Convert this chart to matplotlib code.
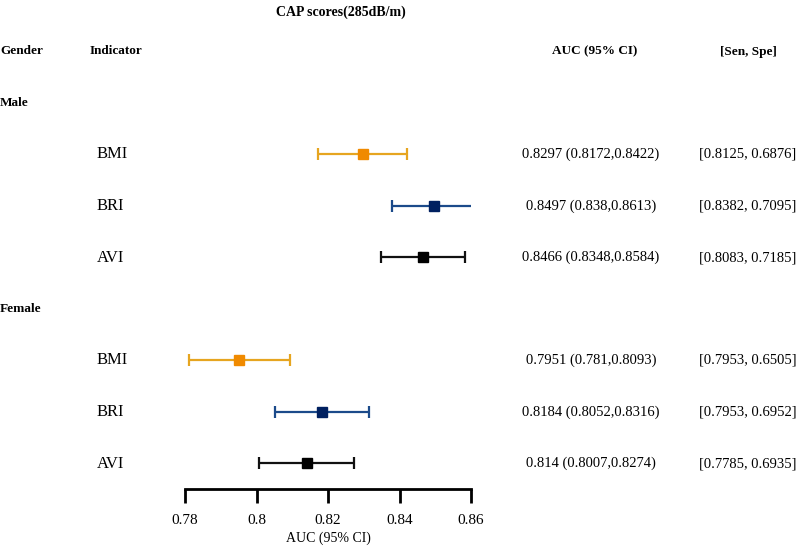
import matplotlib
matplotlib.use("Agg")
import matplotlib.pyplot as plt

plt.rcParams['font.family'] = ['Liberation Serif', 'DejaVu Serif']

title = "CAP scores(285dB/m)"
groups = ["Male", "Female"]
indicators = ["BMI", "BRI", "AVI"]
auc = [[0.8297, 0.8497, 0.8466], [0.7951, 0.8184, 0.8140]]
lo = [[0.8172, 0.8380, 0.8348], [0.7810, 0.8052, 0.8007]]
hi = [[0.8422, 0.8613, 0.8584], [0.8093, 0.8316, 0.8274]]
auc_txt = [["0.8297 (0.8172,0.8422)", "0.8497 (0.838,0.8613)", "0.8466 (0.8348,0.8584)"],
           ["0.7951 (0.781,0.8093)", "0.8184 (0.8052,0.8316)", "0.814 (0.8007,0.8274)"]]
senspe_txt = [["[0.8125, 0.6876]", "[0.8382, 0.7095]", "[0.8083, 0.7185]"],
              ["[0.7953, 0.6505]", "[0.7953, 0.6952]", "[0.7785, 0.6935]"]]
xticks = [0.78, 0.80, 0.82, 0.84, 0.86]
xtick_labels = ["0.78", "0.8", "0.82", "0.84", "0.86"]

line_colors = ["#E6A520", "#1B4A8A", "#111111"]
marker_colors = ["#F08A00", "#002060", "#000000"]

W, H = 800, 548
fig = plt.figure(figsize=(W / 100, H / 100), dpi=100)

row_px0 = 51.5
row_step = 51.5
ax_bottom_px = 489.0
ax = fig.add_axes([185 / W, 1 - ax_bottom_px / H, (471 - 185) / W, (ax_bottom_px - row_px0) / H])
ax.set_xlim(0.78, 0.86)
ax.set_ylim(8.5, 0)

def ypx(r):
    return row_px0 + r * row_step

def ftext(xpx, r, s, **kw):
    fig.text(xpx / W, 1 - ypx(r) / H, s, va='center', **kw)

# headers
fig.text(341 / W, 1 - 12 / H, title, ha='center', va='center', fontsize=10, fontweight='bold')
ftext(0, 0, "Gender", ha='left', fontsize=9.5, fontweight='bold')
ftext(90, 0, "Indicator", ha='left', fontsize=9.5, fontweight='bold')
ftext(595, 0, "AUC (95% CI)", ha='center', fontsize=9.5, fontweight='bold')
ftext(748, 0, "[Sen, Spe]", ha='center', fontsize=9.5, fontweight='bold')

for g, gname in enumerate(groups):
    base = 1 + g * 4
    ftext(0, base, gname, ha='left', fontsize=9.5, fontweight='bold')
    for i, ind in enumerate(indicators):
        r = base + 1 + i
        ftext(97, r, ind, ha='left', fontsize=12)
        ftext(591, r, auc_txt[g][i], ha='center', fontsize=10.5)
        ftext(748, r, senspe_txt[g][i], ha='center', fontsize=10.5)
        ax.errorbar([auc[g][i]], [r],
                    xerr=[[auc[g][i] - lo[g][i]], [hi[g][i] - auc[g][i]]],
                    fmt='none', ecolor=line_colors[i], elinewidth=1.6, capsize=4.5, capthick=1.6)
        ax.plot([auc[g][i]], [r], marker='s', markersize=6.5, color=marker_colors[i],
                linestyle='none', zorder=3)

for s in ['top', 'right', 'left']:
    ax.spines[s].set_visible(False)
ax.spines['bottom'].set_linewidth(2)
ax.set_yticks([])
ax.set_xticks(xticks)
ax.set_xticklabels(xtick_labels, fontsize=11)
ax.tick_params(axis='x', direction='out', length=10, width=2, pad=8)
ax.set_xlabel("AUC (95% CI)", fontsize=10, labelpad=3)
ax.patch.set_alpha(0)

fig.savefig("out.png", dpi=100)
